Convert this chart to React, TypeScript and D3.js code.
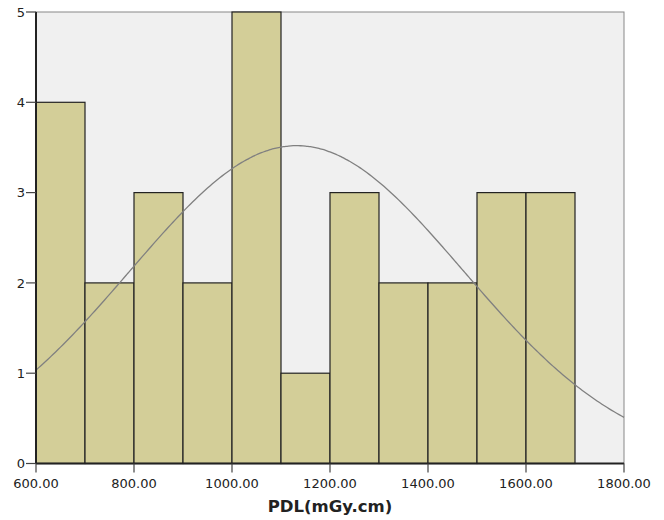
import React from "react";
import * as d3 from "d3";

const binStarts = [600, 700, 800, 900, 1000, 1100, 1200, 1300, 1400, 1500, 1600];
const binWidth = 100;
const counts = [4, 2, 3, 2, 5, 1, 3, 2, 2, 3, 3];
const xTicks = [600, 800, 1000, 1200, 1400, 1600, 1800];
const yTicks = [0, 1, 2, 3, 4, 5];
const fitMean = 1132;
const fitSd = 340;
const xLabel = "PDL(mGy.cm)";

export default function App() {
  const W = 664, H = 520;
  const left = 36, right = 624, top = 12, bottom = 463.5;
  const x = d3.scaleLinear().domain([600, 1800]).range([left, right]);
  const y = d3.scaleLinear().domain([0, 5]).range([bottom, top]);
  const n = d3.sum(counts);
  const pdf = (v: number) =>
    (n * binWidth) / (fitSd * Math.sqrt(2 * Math.PI)) *
    Math.exp(-0.5 * ((v - fitMean) / fitSd) ** 2);
  const pts = d3.range(600, 1800.1, 5).map((v) => [v, pdf(v)] as [number, number]);
  const line = d3.line<[number, number]>().x((d) => x(d[0])).y((d) => y(d[1])).curve(d3.curveBasis);
  const font = "'DejaVu Sans', Verdana, sans-serif";
  return (
    <svg width={W} height={H} style={{ position: "absolute", left: 0, top: 0 }}>
      <rect x={0} y={0} width={W} height={H} fill="#fff" />
      <rect x={left} y={top} width={right - left} height={bottom - top} fill="#f0f0f0" stroke="#888" strokeWidth={1} />
      {binStarts.map((b, i) => (
        <rect key={i} x={x(b)} y={y(counts[i])} width={x(b + binWidth) - x(b)} height={bottom - y(counts[i])}
          fill="#d3ce98" stroke="#222" strokeWidth={1.2} />
      ))}
      <path d={line(pts) || ""} fill="none" stroke="#808080" strokeWidth={1.3} />
      <line x1={left} x2={left} y1={top} y2={bottom} stroke="#222" strokeWidth={2} />
      <line x1={left} x2={right} y1={bottom} y2={bottom} stroke="#222" strokeWidth={2} />
      {yTicks.map((t) => (
        <g key={t}>
          <line x1={left - 10} x2={left} y1={y(t)} y2={y(t)} stroke="#444" strokeWidth={1.2} />
          <text x={left - 11} y={y(t)} dy="0.36em" textAnchor="end" fontFamily={font} fontSize={13} fill="#222">{t}</text>
        </g>
      ))}
      {xTicks.map((t) => (
        <g key={t}>
          <line x1={x(t)} x2={x(t)} y1={bottom} y2={bottom + 9} stroke="#444" strokeWidth={1.2} />
          <text x={x(t)} y={488} textAnchor="middle" fontFamily={font} fontSize={13} fill="#222">{t.toFixed(2)}</text>
        </g>
      ))}
      <text x={(left + right) / 2} y={512} textAnchor="middle" fontFamily={font} fontSize={16.5} fontWeight="bold" fill="#222">{xLabel}</text>
    </svg>
  );
}
